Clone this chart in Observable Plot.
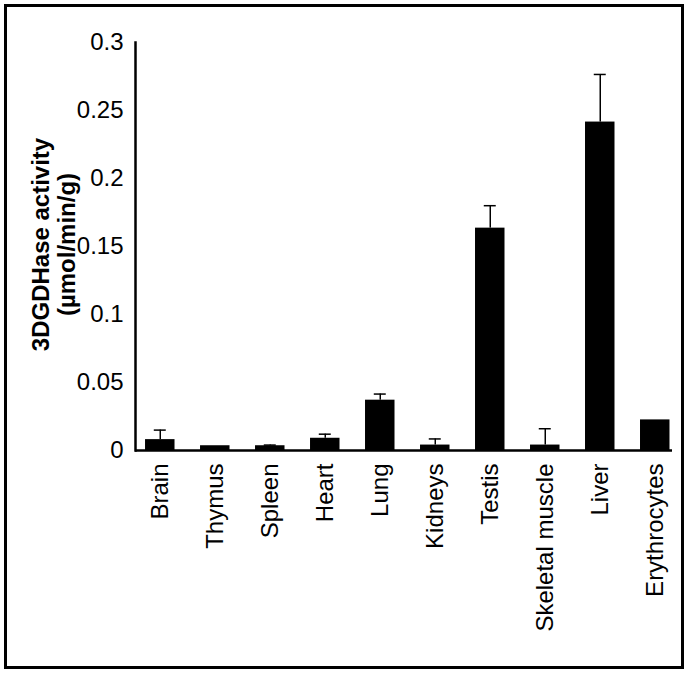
<!DOCTYPE html>
<html>
<head>
<meta charset="utf-8">
<script src="https://cdn.jsdelivr.net/npm/d3@7"></script>
<script src="https://cdn.jsdelivr.net/npm/@observablehq/plot@0.6"></script>
<style>
  html, body { margin: 0; padding: 0; background: #fff; }
  #wrap { position: relative; width: 690px; height: 674px; }
  #border { position: absolute; left: 4px; top: 4px; width: 680px; height: 665px; box-sizing: border-box; border: 3px solid #000; pointer-events: none; }
</style>
</head>
<body>
<div id="wrap"><div id="chart"></div><div id="border"></div></div>
<script>
const categories = ["Brain","Thymus","Spleen","Heart","Lung","Kidneys","Testis","Skeletal muscle","Liver","Erythrocytes"];
const means  = [0.008, 0.0035, 0.0035, 0.009, 0.037, 0.004, 0.1635, 0.004, 0.2415, 0.0225];
const errors = [0.007, 0, 0.0005, 0.003, 0.0045, 0.0045, 0.0165, 0.012, 0.035, 0];
const yTicks = [0, 0.05, 0.1, 0.15, 0.2, 0.25, 0.3];
const yTitle = ["3DGDHase activity", "(µmol/min/g)"];

const data = categories.map((c, i) => ({cat: c, mean: means[i], err: errors[i]}));
const errData = data.filter(d => d.err > 0);

const chart = Plot.plot({
  width: 690,
  height: 674,
  marginLeft: 135,
  marginRight: 18,
  marginTop: 42,
  marginBottom: 224,
  style: {fontFamily: "'Liberation Sans', Arial, sans-serif", fontSize: "24px", color: "#000", background: "transparent"},
  x: {domain: categories, paddingInner: 0.464, paddingOuter: 0.114, align: 0.8, round: false, axis: null},
  y: {domain: [0, 0.3], axis: null},
  marks: [
    Plot.barY(data, {x: "cat", y: "mean", fill: "#000"}),
    Plot.ruleX(errData, {x: "cat", y1: "mean", y2: d => d.mean + d.err, stroke: "#000", strokeWidth: 1.5}),
    Plot.tickY(errData, {x: "cat", y: d => d.mean + d.err, stroke: "#000", strokeWidth: 1.5, insetLeft: 8.75, insetRight: 8.75}),
    Plot.ruleY([0], {stroke: "#000", strokeWidth: 2.5}),
    Plot.frame({anchor: "left", stroke: "#000", strokeWidth: 2.5}),
    Plot.axisY({ticks: yTicks, tickSize: 0, tickPadding: 12, tickFormat: d => String(d), label: null, fontSize: 24}),
    Plot.axisX({tickSize: 0, tickRotate: -90, tickPadding: 13, label: null, fontSize: 24}),
    Plot.text([yTitle.join("\n")], {frameAnchor: "left", textAnchor: "middle", rotate: -90, dx: -82, dy: -2, fontWeight: "bold", fontSize: 24, lineHeight: 1.1, fill: "#000"})
  ]
});
document.getElementById("chart").appendChild(chart);
</script>
</body>
</html>
